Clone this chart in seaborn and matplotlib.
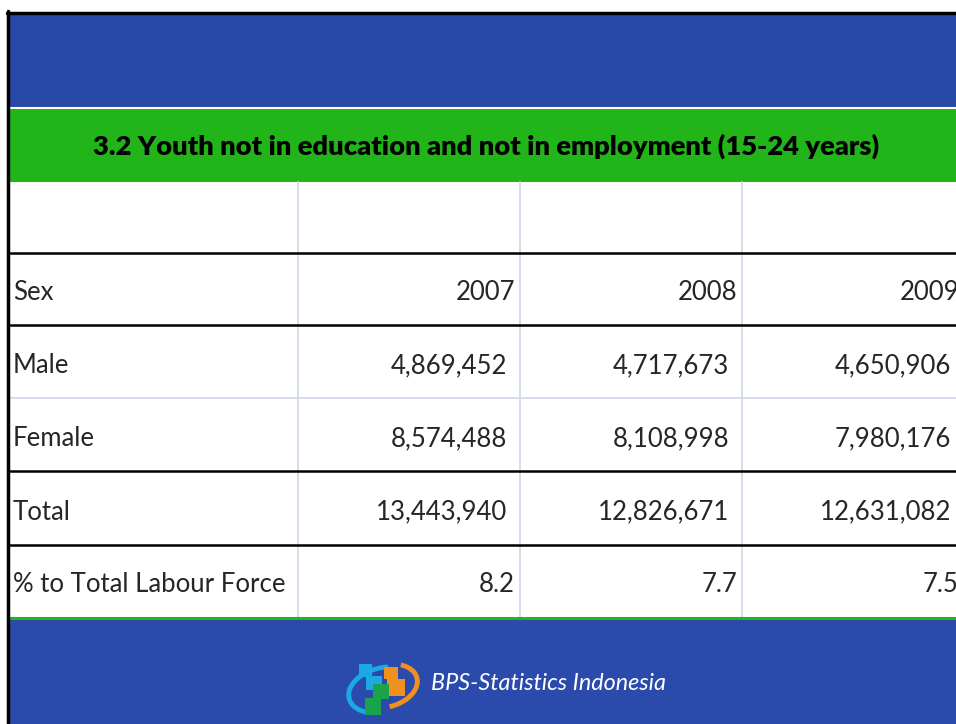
"""
Slide table: youth not in education and not in employment (BPS).
Drawn in pixel coordinates on a full-figure axes, numeric block via sns.heatmap.
"""
import numpy as np
import matplotlib
matplotlib.use("Agg")
import matplotlib.pyplot as plt
from matplotlib.colors import ListedColormap
from matplotlib.patches import Rectangle, Arc
import seaborn as sns

# ---------------- Data ----------------
title = "3.2 Youth not in education and not in employment (15-24 years)"
first_col_header = "Sex"
years = [2007, 2008, 2009]
row_labels = ["Male", "Female", "Total", "% to Total Labour Force"]
male = [4869452, 4717673, 4650906]
female = [8574488, 8108998, 7980176]
total = [13443940, 12826671, 12631082]
pct_labour_force = [8.2, 7.7, 7.5]
footer = "BPS-Statistics Indonesia"

# ---------------- Layout (pixels) ----------------
W, H = 956, 724
LEFT = 10
COL_EDGES = [LEFT, 298, 520, 742, 964]
ROW_EDGES = [182, 253, 325, 398, 471, 545, 617]
BLUE = "#2848a6"
BLUE_FOOT = "#2a4bab"
GREEN = "#22b51a"
GRID = "#cdd5e6"

sns.set_theme(style="white")
plt.rcParams["font.family"] = ["Lato", "DejaVu Sans"]

fig = plt.figure(figsize=(W / 100, H / 100), dpi=100)

# background layer
ax_bg = fig.add_axes([0, 0, 1, 1], zorder=0)
ax_bg.set_xlim(0, W)
ax_bg.set_ylim(H, 0)
ax_bg.axis("off")
ax_bg.add_patch(Rectangle((LEFT, 13), W - LEFT, 95, color=BLUE, lw=0))
ax_bg.add_patch(Rectangle((LEFT, 109), W - LEFT, 73, color=GREEN, lw=0))
ax_bg.add_patch(Rectangle((LEFT, 619), W - LEFT, H - 619, color=BLUE_FOOT, lw=0))

# numeric block: plain white cells (grid rules drawn on top)
y0, y1 = ROW_EDGES[0], ROW_EDGES[-1]
x0, x1 = COL_EDGES[1], COL_EDGES[-1]
ax_hm = fig.add_axes([x0 / W, (H - y1) / H, (x1 - x0) / W, (y1 - y0) / H], zorder=1)
sns.heatmap(np.zeros((len(ROW_EDGES) - 1, len(years))), ax=ax_hm,
            cmap=ListedColormap(["white"]), cbar=False,
            linewidths=0, xticklabels=False, yticklabels=False)
ax_hm.axis("off")

# foreground: rules, borders, text
ax = fig.add_axes([0, 0, 1, 1], zorder=2)
ax.set_xlim(0, W)
ax.set_ylim(H, 0)
ax.axis("off")
ax.patch.set_alpha(0)

# vertical separators
for x in COL_EDGES[1:4]:
    ax.plot([x, x], [y0, y1], color=GRID, lw=1.2)
# horizontal rules
ax.plot([LEFT, W], [398, 398], color=GRID, lw=1.2)
for y in [253, 325, 471, 545]:
    ax.plot([LEFT, W], [y, y], color="black", lw=1.8)
ax.plot([LEFT, W], [108, 108], color="white", lw=1.5)
ax.plot([LEFT, W], [618, 618], color=GREEN, lw=2.2)
# outer black border (top and left)
ax.plot([7, W], [12.5, 12.5], color="black", lw=2.5)
ax.plot([8.5, 8.5], [11, H], color="black", lw=2.5)

# title
ax.text(486, 146, title, ha="center", va="center", fontsize=19.7,
        fontweight="heavy", color="black")

FS = 18.5
centers = [(ROW_EDGES[i] + ROW_EDGES[i + 1]) / 2 + 4 for i in range(len(ROW_EDGES) - 1)]

# header row
ax.text(13, centers[1], first_col_header, ha="left", va="center", fontsize=FS)
for j, yr in enumerate(years):
    ax.text(COL_EDGES[j + 2] - 5, centers[1], str(yr), ha="right", va="center", fontsize=FS)

# body
body = [male, female, total]
for i, lab in enumerate(row_labels):
    ax.text(13, centers[i + 2], lab, ha="left", va="center", fontsize=FS)
for i, vals in enumerate(body):
    for j, v in enumerate(vals):
        ax.text(COL_EDGES[j + 2] - 13, centers[i + 2], f"{v:,}", ha="right",
                va="center", fontsize=FS)
for j, v in enumerate(pct_labour_force):
    ax.text(COL_EDGES[j + 2] - 5, centers[5], f"{v:.1f}", ha="right", va="center",
            fontsize=FS)

# footer logo (rough BPS mark) and text
CYAN, ORANGE, LOGO_GREEN = "#1ba8e3", "#f0901e", "#1aa34a"
ax.add_patch(Arc((382, 690), 68, 44, angle=-15, theta1=130, theta2=300, color=CYAN, lw=3.5))
ax.add_patch(Arc((386, 686), 64, 42, angle=-15, theta1=-40, theta2=95, color=ORANGE, lw=3.5))
ax.add_patch(Rectangle((359, 664), 13, 13, color=CYAN, lw=0))
ax.add_patch(Rectangle((366, 676), 16, 14, color=CYAN, lw=0))
ax.add_patch(Rectangle((384, 667), 14, 12, color=ORANGE, lw=0))
ax.add_patch(Rectangle((387, 679), 18, 17, color=ORANGE, lw=0))
ax.add_patch(Rectangle((373, 684), 16, 15, color=LOGO_GREEN, lw=0))
ax.add_patch(Rectangle((365, 698), 16, 17, color=LOGO_GREEN, lw=0))
ax.text(431, 684, footer, ha="left", va="center", fontsize=16.8, style="italic",
        color="white")

fig.savefig("out.png", dpi=100)
